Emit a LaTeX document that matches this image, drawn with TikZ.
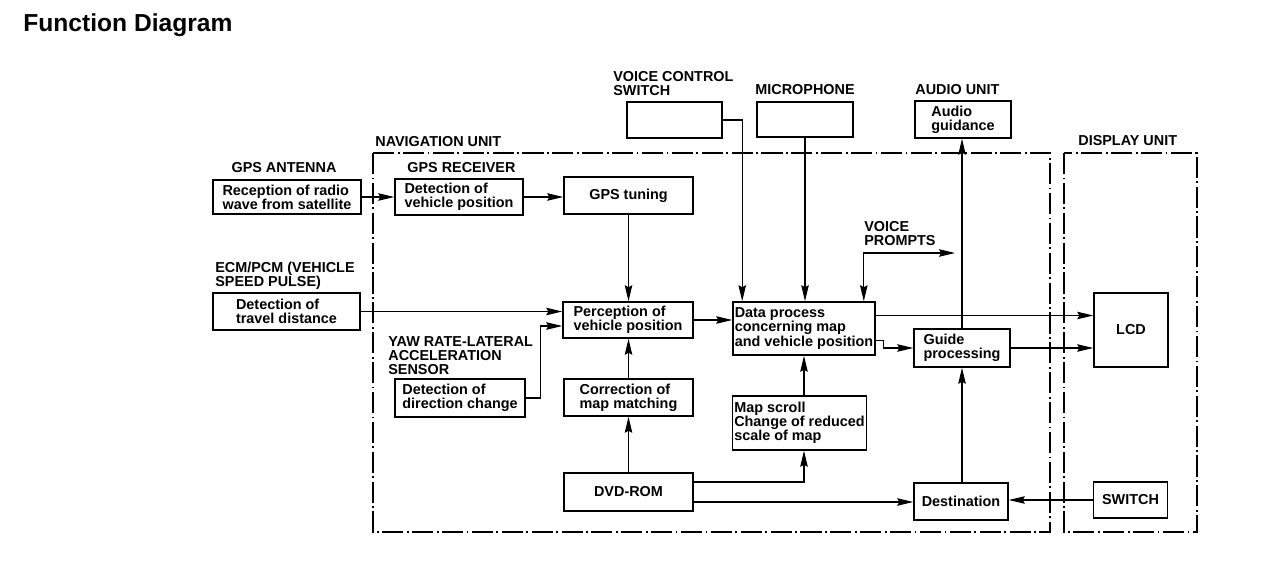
\documentclass[tikz,border=0pt]{standalone}
\usepackage{fontspec}
\setmainfont{Liberation Sans}
\usetikzlibrary{calc,arrows.meta}
\tikzset{
	>={Stealth[length=3.2mm,width=1.5mm,inset=0.4mm]},
	blk/.style={draw, line width=0.9pt, align=left, inner sep=1pt, font=\fontsize{8.2}{8}\selectfont\bfseries},
	lbl/.style={inner sep=0pt, align=left, font=\fontsize{8.2}{8}\selectfont\bfseries},
	con/.style={->, line width=0.6pt},
	unit/.style={line width=0.6pt, dash pattern=on 12pt off 2pt on 1pt off 2pt},
}

\begin{document}
\begin{tikzpicture}[x=0.02cm, y=-0.02cm]
		%%%%% START %%%%%
		\useasboundingbox (0,0) rectangle (1264,564);
		
		\node[anchor=west, inner sep=0pt, font=\fontsize{14}{15}\selectfont\bfseries] (title) at (23,25.5) {Function Diagram};
		
		\draw[unit] (373,153) rectangle (1050,532);
		\draw[unit] (1064,153) rectangle (1197,532);
		
		\node[lbl, anchor=west] (navlbl) at (375,142) {NAVIGATION UNIT};
		\node[lbl, anchor=west] (displbl) at (1078,141) {DISPLAY UNIT};
		\node[lbl] (antlbl) at (284,168) {GPS ANTENNA};
		\node[lbl, anchor=west] (rcvlbl) at (407,168) {GPS RECEIVER};
		\node[lbl, anchor=north west] (ecmlbl) at (215,262) {ECM/PCM (VEHICLE\\SPEED PULSE)};
		\node[lbl, anchor=north west] (yawlbl) at (388,336) {YAW RATE-LATERAL\\ACCELERATION\\SENSOR};
		\node[lbl, anchor=north west] (vcslbl) at (613,71) {VOICE CONTROL\\SWITCH};
		\node[lbl] (miclbl) at (805,90) {MICROPHONE};
		\node[lbl, anchor=west] (audlbl) at (915,90) {AUDIO UNIT};
		\node[lbl, anchor=north west] (vplbl) at (864,221) {VOICE\\PROMPTS};
		
		\node[blk, minimum width=29.6mm, minimum height=6.8mm] (rad) at (287,197) {Reception of radio\\wave from satellite};
		\node[blk, minimum width=25.6mm, minimum height=7.2mm] (gpsrcv) at (459,197) {Detection of\\vehicle position};
		\node[blk, minimum width=25.8mm, minimum height=7.4mm] (tuning) at (628.5,195.5) {GPS tuning};
		\node[blk, minimum width=29.4mm, minimum height=7.4mm] (travel) at (286.5,311.5) {Detection of\\travel distance};
		\node[blk, minimum width=26mm, minimum height=7.6mm] (dirchg) at (460,398) {Detection of\\direction change};
		\node[blk, minimum width=26mm, minimum height=7.2mm] (percep) at (628,320) {Perception of\\vehicle position};
		\node[blk, minimum width=25.8mm, minimum height=7.4mm] (corr) at (628.5,397.5) {Correction of\\map matching};
		\node[blk, minimum width=25.8mm, minimum height=7.6mm] (dvd) at (628.5,492) {DVD-ROM};
		\node[blk, minimum width=28.4mm, minimum height=10.6mm] (dataproc) at (804,328.5) {Data process\\concerning map\\and vehicle position};
		\node[blk, minimum width=26.6mm, minimum height=10.8mm] (mapscroll) at (799.5,423) {Map scroll\\Change of reduced\\scale of map};
		\node[blk, minimum width=19.2mm, minimum height=7.6mm] (guide) at (962,348) {Guide\\processing};
		\node[blk, minimum width=18.8mm, minimum height=7.4mm] (dest) at (961,501.5) {Destination};
		\node[blk, minimum width=14.8mm, minimum height=14.8mm] (lcd) at (1131,330) {LCD};
		\node[blk, minimum width=14.8mm, minimum height=7.2mm] (sw) at (1130.5,500) {SWITCH};
		\node[blk, minimum width=19mm, minimum height=7.2mm] (vcsw) at (674.5,120) {};
		\node[blk, minimum width=19.2mm, minimum height=7mm] (mic) at (805,119.5) {};
		\node[blk, minimum width=19.2mm, minimum height=7.4mm] (audio) at (963,119.5) {Audio\\guidance};
		
		\draw[con] (rad) -- (gpsrcv);
		\draw[con] (gpsrcv.east) -- (gpsrcv.east -| tuning.west);
		\draw[con] (tuning.south) -- (tuning.south |- percep.north);
		\draw[con] (travel.east) -- (travel.east -| percep.west);
		\draw[con] (dirchg.east) -- ++(15,0) |- ($(percep.west)+(0,6)$);
		\draw[con] (corr.north) -- (corr.north |- percep.south);
		\draw[con] (dvd.north) -- (dvd.north |- corr.south);
		\draw[con] (percep.east) -- (percep.east -| dataproc.west);
		
		\draw[con] (vcsw.east) -| ($(dataproc.north west)+(10,0)$);
		\draw[con] (mic.south) -- (mic.south |- dataproc.north);
		\coordinate (prompt) at (955,253);
		\draw[con, <->] (prompt) -| ($(dataproc.north east)+(-12,0)$);
		
		\coordinate (dpout) at ($(dataproc.east)+(0,-13)$);
		\draw[con] (dpout) -- (dpout -| lcd.west);
		\draw[con] ($(dataproc.east)+(0,12)$) -- ++(8,0) |- (guide.west);
		\draw[con] (guide.east) -- (guide.east -| lcd.west);
		\draw[con] (guide.north) -- (guide.north |- audio.south);
		\draw[con] (guide.south |- dest.north) -- (guide.south);
		\draw[con] (sw.west) -- (sw.west -| dest.east);
		
		\coordinate (dvdup) at ($(dvd.east)+(0,-10)$);
		\coordinate (dvddn) at ($(dvd.east)+(0,10)$);
		\draw[con] (dvdup) -| (mapscroll.south -| dataproc.south);
		\draw[con] (mapscroll.north -| dataproc.south) -- (dataproc.south);
		\draw[con] (dvddn) -- (dvddn -| dest.west);
		
		%%%%% END %%%%%
	\end{tikzpicture}
\end{document}
